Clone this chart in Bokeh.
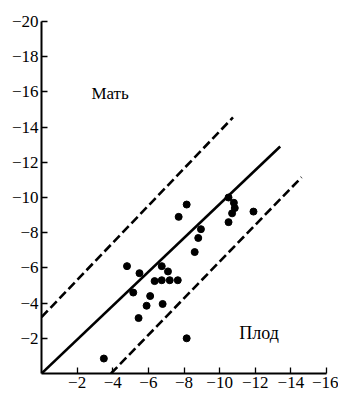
from bokeh.plotting import figure
from bokeh.models import Range1d, FixedTicker, Label
from bokeh.embed import file_html
from bokeh.resources import INLINE

# Data (fetus on x, mother on y)
fetus = [-4.8, -5.5, -6.75, -7.1, -6.35, -6.75, -7.2, -7.65, -5.15, -6.1, -5.9, -6.8,
         -5.45, -8.15, -3.5, -8.15, -7.7, -8.95, -8.8, -8.6, -10.5, -11.9,
         -10.5, -10.8, -10.85, -10.7]
mother = [-6.1, -5.7, -6.1, -5.8, -5.25, -5.3, -5.3, -5.3, -4.6, -4.4, -3.85, -3.95,
          -3.15, -2.0, -0.85, -9.6, -8.9, -8.2, -7.7, -6.9, -8.6, -9.2,
          -10.0, -9.7, -9.4, -9.1]

x_ticks = [-2, -4, -6, -8, -10, -12, -14, -16]
y_ticks = [-2, -4, -6, -8, -10, -12, -14, -16, -18, -20]

solid_x = [0, -13.4]
solid_y = [0, -12.9]
upper_x = [0, -10.75]
upper_y = [-3.2, -14.55]
lower_x = [-3.9, -14.6]
lower_y = [0, -11.15]

label_mother = "Мать"
label_fetus = "Плод"

FONT = "Liberation Serif"

p = figure(width=338, height=393, output_backend="svg", toolbar_location=None,
           x_range=Range1d(0, -16), y_range=Range1d(0, -20),
           min_border_left=41, min_border_right=12, min_border_top=21, min_border_bottom=20)
p.outline_line_color = None
p.grid.visible = False
p.background_fill_color = "white"
p.border_fill_color = "white"

for ax, ticks in ((p.xaxis[0], x_ticks), (p.yaxis[0], y_ticks)):
    ax.ticker = FixedTicker(ticks=ticks)
    ax.major_tick_in = 6
    ax.major_tick_out = 0
    ax.minor_tick_line_color = None
    ax.axis_line_width = 2
    ax.axis_line_color = "black"
    ax.major_tick_line_color = "black"
    ax.major_tick_line_width = 1.3
    ax.major_label_text_font = FONT
    ax.major_label_text_font_size = "17px"
    ax.major_label_text_color = "black"
    ax.major_label_standoff = 3

p.line(solid_x, solid_y, line_color="black", line_width=2.6)
p.line(upper_x, upper_y, line_color="black", line_width=2.6, line_dash="9 4")
p.line(lower_x, lower_y, line_color="black", line_width=2.6, line_dash="9 4")

p.scatter(fetus, mother, size=7, color="black")

p.add_layout(Label(x=-2.8, y=-15.9, text=label_mother, text_font=FONT,
                   text_font_size="17px", text_baseline="middle", text_color="black"))
p.add_layout(Label(x=-11.1, y=-2.3, text=label_fetus, text_font=FONT,
                   text_font_size="18px", text_baseline="middle", text_color="black"))

open("out.html", "w").write(file_html(p, INLINE))
